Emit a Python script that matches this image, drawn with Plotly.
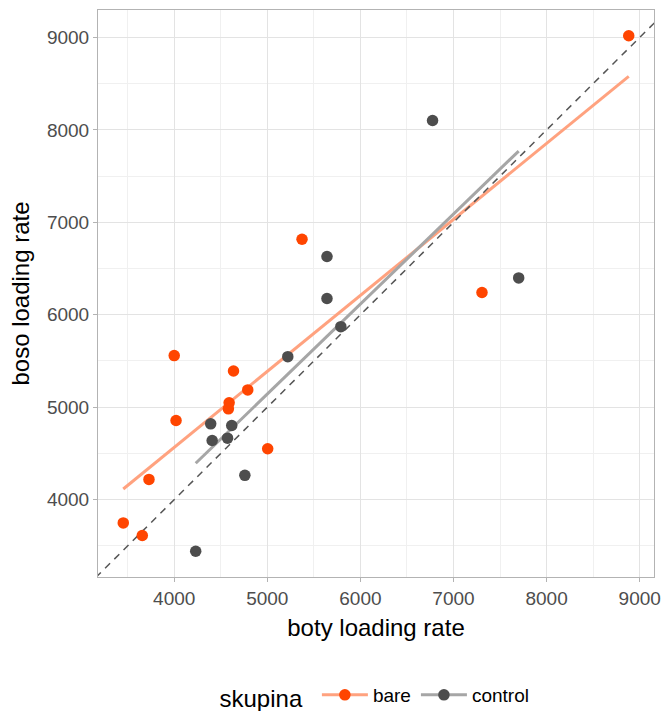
import numpy as np
import plotly.graph_objects as go

# ---- data ----
bare_x = [8882, 7306, 5373, 4000, 4637, 4790, 4590, 4582, 4020, 5004, 3729, 3453, 3657]
bare_y = [9018, 6241, 6817, 5558, 5392, 5187, 5047, 4982, 4856, 4550, 4219, 3748, 3612]
control_x = [6775, 5641, 7700, 5641, 5790, 5220, 4392, 4618, 4408, 4573, 4759, 4231]
control_y = [8101, 6630, 6399, 6176, 5871, 5547, 4820, 4802, 4640, 4665, 4263, 3442]
group_names = ["bare", "control"]
x_ticks = [4000, 5000, 6000, 7000, 8000, 9000]
y_ticks = [4000, 5000, 6000, 7000, 8000, 9000]
x_title = "boty loading rate"
y_title = "boso loading rate"
legend_title = "skupina"

FONT = "Liberation Sans, Arial, sans-serif"
pt_col = {"bare": "#FF4500", "control": "#4D4D4D"}
ln_col = {"bare": "#FFA27F", "control": "#A6A6A6"}

groups = {"bare": (bare_x, bare_y), "control": (control_x, control_y)}

allx = bare_x + control_x
ally = bare_y + control_y
def expand(v):
    lo, hi = min(v), max(v)
    d = (hi - lo) * 0.05
    return [lo - d, hi + d]
xr = expand(allx)
yr = expand(ally)

fig = go.Figure()

# regression lines (lm fits)
for g in group_names:
    gx, gy = np.array(groups[g][0], float), np.array(groups[g][1], float)
    b, a = np.polyfit(gx, gy, 1)
    fx = np.array([gx.min(), gx.max()])
    fig.add_trace(go.Scatter(x=fx, y=a + b * fx, mode="lines",
                             line=dict(color=ln_col[g], width=3),
                             showlegend=False, hoverinfo="skip"))

# identity dashed line
ident = [min(xr[0], yr[0]) - 500, max(xr[1], yr[1]) + 500]
fig.add_trace(go.Scatter(x=ident, y=ident, mode="lines",
                         line=dict(color="#555555", width=1.5, dash="7px,6px"),
                         showlegend=False, hoverinfo="skip"))

# points
for g in group_names:
    fig.add_trace(go.Scatter(x=groups[g][0], y=groups[g][1], mode="markers",
                             marker=dict(color=pt_col[g], size=11.5),
                             name=g, showlegend=False))

# legend keys (line + point)
for g in group_names:
    fig.add_trace(go.Scatter(x=[None], y=[None], mode="lines+markers",
                             marker=dict(color=pt_col[g], size=11.5),
                             line=dict(color=ln_col[g], width=3),
                             name=g, showlegend=True))

axis_common = dict(
    showline=True, mirror=True, linecolor="#B3B3B3", linewidth=1,
    ticks="outside", ticklen=4, tickcolor="#B3B3B3", tickwidth=1,
    showgrid=True, gridcolor="#E3E3E3", gridwidth=1,
    zeroline=False, automargin=False,
    tickfont=dict(family=FONT, size=19, color="#4D4D4D"),
    minor=dict(dtick=500, tick0=0, showgrid=True, gridcolor="#F0F0F0", gridwidth=1),
)

fig.update_layout(
    width=664, height=711,
    margin=dict(l=98, r=10, t=10, b=134, autoexpand=False),
    plot_bgcolor="white", paper_bgcolor="white",
    font=dict(family=FONT, color="black"),
    xaxis=dict(range=xr, tickvals=x_ticks, ticktext=[str(t) for t in x_ticks],
               title=dict(text=x_title, font=dict(family=FONT, size=24, color="black"), standoff=11),
               **axis_common),
    yaxis=dict(range=yr, tickvals=y_ticks, ticktext=[str(t) for t in y_ticks],
               title=dict(text=y_title, font=dict(family=FONT, size=24, color="black"), standoff=10),
               **axis_common),
    legend=dict(orientation="h", x=0.5, xanchor="center",
                yref="container", y=(711 - 697) / 711, yanchor="middle",
                title=dict(text=legend_title + " ", font=dict(family=FONT, size=24, color="black"), side="left"),
                font=dict(family=FONT, size=19, color="black"),
                itemwidth=46, bgcolor="rgba(0,0,0,0)"),
)

fig.write_html("out.html", config={"displayModeBar": False},
               post_script="document.body.style.margin='0';document.body.style.padding='0';document.body.style.overflow='hidden';")
